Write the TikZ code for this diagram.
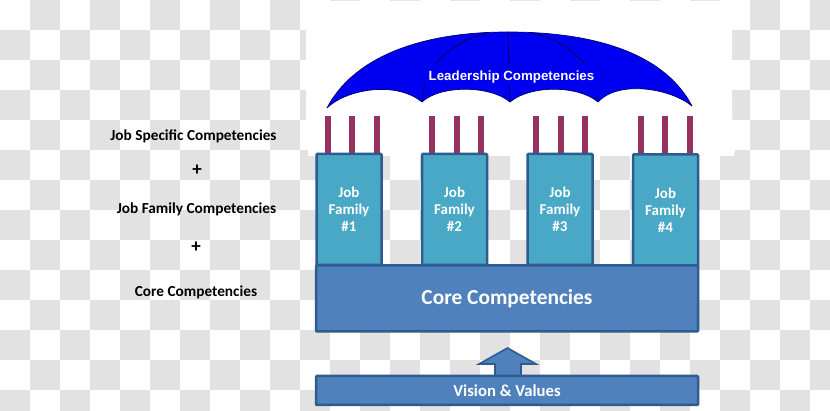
\documentclass[tikz,border=0pt]{standalone}
\usepackage{fontspec}
\setmainfont{Carlito}
\newfontfamily\umbfont{Liberation Sans}
\definecolor{tilegray}{HTML}{E2E2E2}
\definecolor{umbblue}{HTML}{0000F0}
\definecolor{ribnavy}{HTML}{000070}
\definecolor{pillarc}{HTML}{953262}
\definecolor{familyc}{HTML}{49A8C5}
\definecolor{corec}{HTML}{4F81BD}
\definecolor{edgec}{HTML}{2F5C8F}
\tikzset{
  familybox/.style={draw=edgec,fill=familyc,line width=2.5pt,rounded corners=0.8pt,inner sep=0pt,minimum width=65pt,minimum height=111pt,text=white,align=center,font=\bfseries\fontsize{15}{17}\selectfont},
  wideblue/.style={draw=edgec,fill=corec,line width=2.5pt,rounded corners=0.8pt,inner sep=0pt,minimum width=382pt,text=white,font=\bfseries},
  pillar/.style={fill=pillarc,inner sep=0pt,minimum width=6pt,minimum height=39pt},
  sidelabel/.style={text=black,inner sep=0pt,font=\bfseries\fontsize{15.3}{18}\selectfont},
  pluslabel/.style={text=black,inner sep=0pt,font=\bfseries\fontsize{19}{20}\selectfont},
  rib/.style={draw=ribnavy,line width=1pt}
}
\begin{document}
\begin{tikzpicture}[x=1pt,y=-1pt]
\useasboundingbox (0,0) rectangle (830,411);
\fill[white] (0,0) rectangle (830,411);
% transparency checkerboard
\foreach \i in {0,...,27}{\foreach \j in {0,...,13}{
  \pgfmathparse{int(mod(\i+\j,2))}
  \ifnum\pgfmathresult=1
    \fill[tilegray] (30*\i,30*\j) rectangle (30*\i+30,30*\j+30);
  \fi
}}
% white panel behind the umbrella
\fill[white] (306,1) -- (732,1) -- (732,120) -- (735,120) -- (735,150) -- (734,156) -- (308,156) -- (308,150) -- (306,120) -- cycle;
% umbrella
\draw[draw=ribnavy,line width=0.7pt,fill=umbblue,line join=round]
  (327,108) .. controls (352,60) and (415,32) .. (508,32)
  .. controls (604,32) and (667,58) .. (692,106)
  .. controls (670,88) and (618,80) .. (598,102)
  .. controls (578,85) and (530,85) .. (510,102)
  .. controls (490,85) and (440,85) .. (422,102)
  .. controls (395,80) and (345,90) .. (327,108) -- cycle;
\draw[rib] (508,32) -- (509,65);
\draw[rib] (509,85) -- (510,102);
\draw[rib] (487,33) .. controls (465,38) and (448,50) .. (435,64);
\draw[rib] (533,33) .. controls (555,38) and (572,50) .. (585,64);
\draw[rib] (422,102) .. controls (423,95) and (424,88) .. (425,83);
\draw[rib] (598,102) -- (596,96);
\node[text=white,inner sep=0pt,font=\umbfont\bfseries\fontsize{13.3}{15}\selectfont] (lead) at (511.5,77.5) {Leadership Competencies};
% pillars
\foreach \n/\x in {a/327.7,b/352.3,c/377,d/432,e/456.7,f/481,g/536.3,h/561,k/585.3,m/640.7,n/665.3,o/689.7}{
  \node[pillar] (p\n) at (\x,135.5) {};
}
% job family boxes
\node[familybox] (f1) at (349,209.5) {Job\\Family\\\#1};
\node[familybox] (f2) at (454.5,209.5) {Job\\Family\\\#2};
\node[familybox] (f3) at (560,209.5) {Job\\Family\\\#3};
\node[familybox] (f4) at (665.5,210) {Job\\Family\\\#4};
% core
\node[wideblue,minimum height=66pt] (core) at (507,298.5) {\raisebox{-1pt}{\fontsize{21.4}{25}\selectfont Core Competencies}};
% arrow
\coordinate (arrowtip) at (507.5,348);
\draw[draw=edgec,fill=corec,line width=1.6pt,line join=miter] (arrowtip) -- (536,364) -- (521,364) -- (521,377) -- (495,377) -- (495,364) -- (479,364) -- cycle;
% vision
\node[wideblue,minimum height=29pt] (vision) at (507,390.5) {\fontsize{16.7}{19}\selectfont Vision \& Values};
% side labels
\node[sidelabel] (l1) at (193.5,136) {Job Specific Competencies};
\node[pluslabel] (l2) at (197,170.5) {+};
\node[sidelabel] (l3) at (196.5,209.5) {Job Family Competencies};
\node[pluslabel] (l4) at (196,247.5) {+};
\node[sidelabel] (l5) at (196,292) {Core Competencies};
\end{tikzpicture}
\end{document}
